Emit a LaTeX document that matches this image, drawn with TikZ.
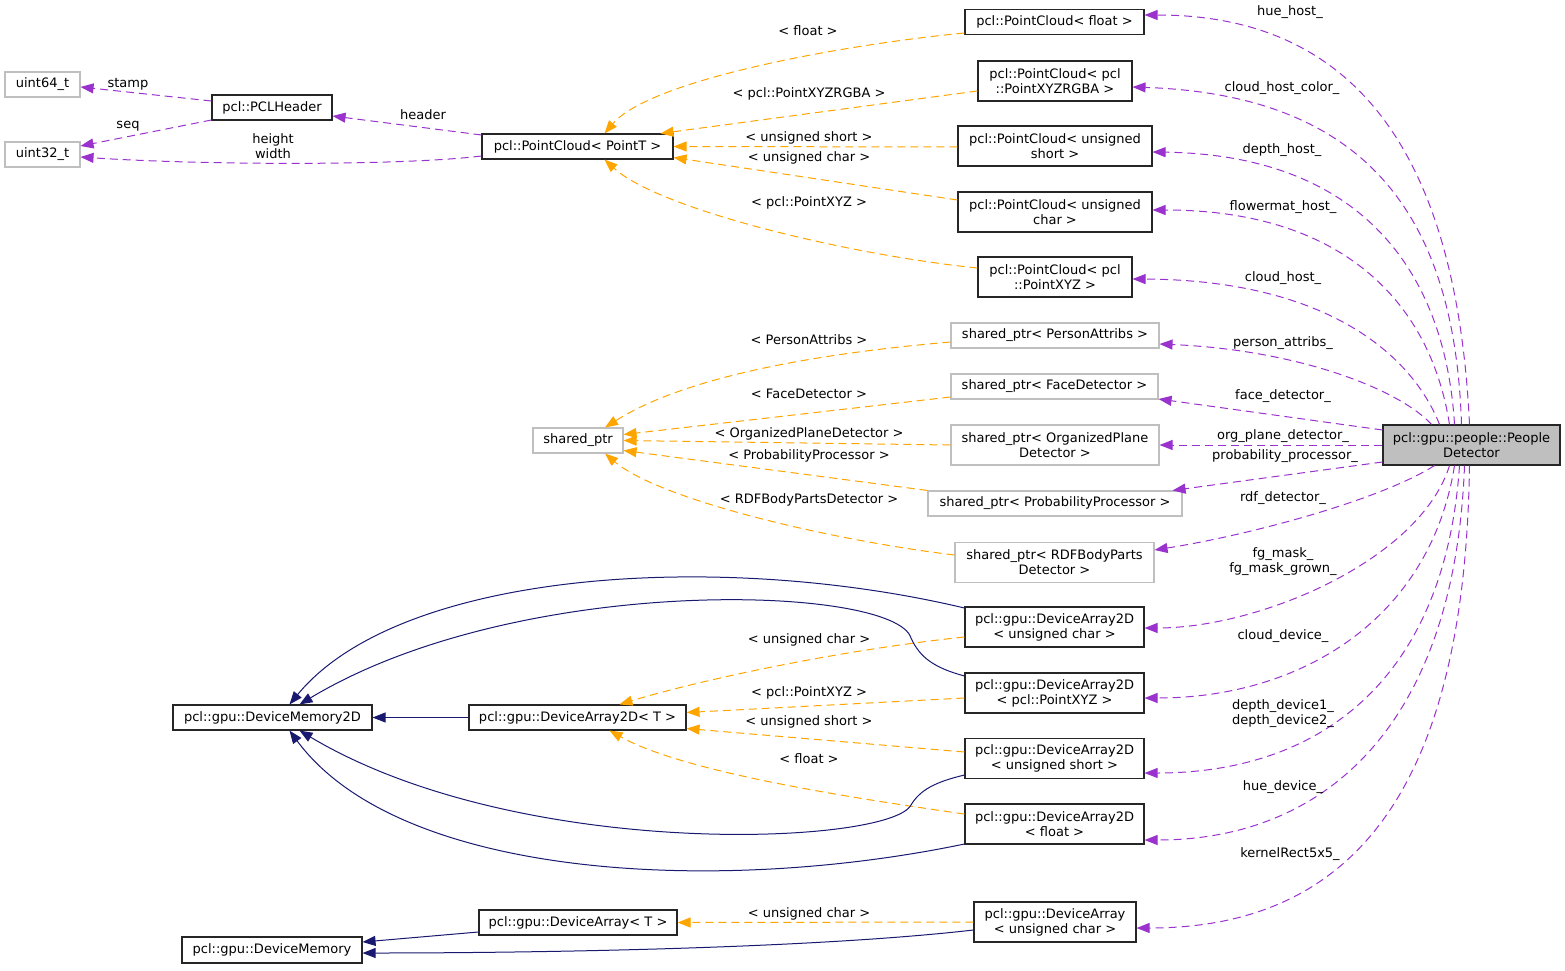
\documentclass[tikz,border=0pt]{standalone}
\usepackage{fontspec}
\setmainfont{DejaVu Sans}
\usetikzlibrary{arrows.meta}
\definecolor{memc}{HTML}{9A32CD}
\definecolor{tplc}{HTML}{FFA500}
\definecolor{inhc}{HTML}{191970}
\definecolor{gryc}{HTML}{BFBFBF}
\begin{document}
\begin{tikzpicture}[x=1pt,y=-1pt,
  every node/.style={font=\fontsize{13}{15}\selectfont, inner sep=0pt},
  cls/.style={draw=black!85, line width=1.1pt, minimum height=25pt, align=center, fill=white},
  ext/.style={draw=gryc, line width=1.1pt, minimum height=25pt, align=center, fill=white},
  two/.style={minimum height=40pt},
  lbl/.style={align=center},
  memb/.style={draw=memc, line width=1pt, dash pattern=on 8pt off 5pt, -{Triangle[length=13pt,width=10pt]}},
  tpl/.style={draw=tplc, line width=1pt, dash pattern=on 8pt off 5pt, -{Triangle[length=13pt,width=10pt]}},
  inh/.style={draw=inhc, line width=1pt, -{Triangle[length=13pt,width=10pt]}}]
\useasboundingbox (0,0) rectangle (1565,971);
% nodes
\node[ext, minimum width=75pt] (u64) at (42.5,84.5) {uint64\_t};
\node[ext, minimum width=75pt] (u32) at (42.5,154.5) {uint32\_t};
\node[cls, minimum width=120pt] (hdr) at (272,107.5) {pcl::PCLHeader};
\node[cls, minimum width=191pt] (pct) at (577.5,146.5) {pcl::PointCloud< PointT >};
\node[cls, minimum width=179pt] (pcf) at (1054.5,22) {pcl::PointCloud< float >};
\node[cls, two, minimum width=154pt] (pcrgba) at (1055,81) {pcl::PointCloud< pcl\\::PointXYZRGBA >};
\node[cls, two, minimum width=194pt] (pcus) at (1055,146) {pcl::PointCloud< unsigned\\short >};
\node[cls, two, minimum width=194pt] (pcuc) at (1055,212) {pcl::PointCloud< unsigned\\char >};
\node[cls, two, minimum width=154pt] (pcxyz) at (1055,277) {pcl::PointCloud< pcl\\::PointXYZ >};
\node[ext, minimum width=208pt] (spa) at (1055,335.5) {shared\_ptr< PersonAttribs >};
\node[ext, minimum width=207pt] (sfd) at (1054.5,386.5) {shared\_ptr< FaceDetector >};
\node[ext, two, minimum width=208pt] (sop) at (1055,445) {shared\_ptr< OrganizedPlane\\Detector >};
\node[ext, minimum width=254pt] (spp) at (1055,503.5) {shared\_ptr< ProbabilityProcessor >};
\node[ext, two, minimum width=199pt] (srdf) at (1054.5,562.5) {shared\_ptr< RDFBodyParts\\Detector >};
\node[ext, minimum width=90pt] (sp) at (578,440.5) {shared\_ptr};
\node[cls, two, minimum width=177pt, fill=gryc] (pd) at (1471.5,445) {pcl::gpu::people::People\\Detector};
\node[cls, two, minimum width=179pt] (da2uc) at (1054.5,627) {pcl::gpu::DeviceArray2D\\< unsigned char >};
\node[cls, two, minimum width=179pt] (da2xyz) at (1054.5,693) {pcl::gpu::DeviceArray2D\\< pcl::PointXYZ >};
\node[cls, two, minimum width=179pt] (da2us) at (1054.5,758.5) {pcl::gpu::DeviceArray2D\\< unsigned short >};
\node[cls, two, minimum width=179pt] (da2f) at (1054.5,824) {pcl::gpu::DeviceArray2D\\< float >};
\node[cls, minimum width=199pt] (dm2) at (272.5,717.5) {pcl::gpu::DeviceMemory2D};
\node[cls, minimum width=217pt] (da2t) at (577.5,717.5) {pcl::gpu::DeviceArray2D< T >};
\node[cls, minimum width=198pt] (dat) at (578,922.5) {pcl::gpu::DeviceArray< T >};
\node[cls, minimum width=180pt, minimum height=26pt] (dm) at (272,950) {pcl::gpu::DeviceMemory};
\node[cls, two, minimum width=162pt] (dauc) at (1055,922) {pcl::gpu::DeviceArray\\< unsigned char >};

% member edges from PeopleDetector
\draw[memb] ([xshift=-2pt]pd.north) .. controls (1455,120) and (1330,15) .. ([yshift=7pt]pcf.east);
\draw[memb] ([xshift=-10pt]pd.north) .. controls (1455,220) and (1370,95) .. ([yshift=-6pt]pcrgba.east);
\draw[memb] ([xshift=-17pt]pd.north) .. controls (1445,270) and (1360,155) .. ([yshift=-6pt]pcus.east);
\draw[memb] ([xshift=-22pt]pd.north) .. controls (1430,300) and (1340,210) .. ([yshift=2pt]pcuc.east);
\draw[memb] ([xshift=-32pt]pd.north) .. controls (1410,350) and (1320,280) .. ([yshift=-2pt]pcxyz.east);
\draw[memb] ([xshift=-40pt]pd.north) .. controls (1400,390) and (1300,350) .. ([yshift=-8.5pt]spa.east);
\draw[memb] ([yshift=15pt]pd.west) -- ([yshift=-12.5pt]sfd.east);
\draw[memb] (pd.west) -- (sop.east);
\draw[memb] ([yshift=-17pt]pd.west) -- ([xshift=-10pt]spp.north east);
\draw[memb] ([xshift=-37pt]pd.south) .. controls (1380,500) and (1250,535) .. ([yshift=12.5pt]srdf.east);
\draw[memb] ([xshift=-22pt]pd.south) .. controls (1420,560) and (1260,628) .. ([yshift=-1pt]da2uc.east);
\draw[memb] ([xshift=-17pt]pd.south) .. controls (1430,620) and (1300,698) .. ([yshift=-5pt]da2xyz.east);
\draw[memb] ([xshift=-12pt]pd.south) .. controls (1445,680) and (1320,773) .. ([yshift=-14.5pt]da2us.east);
\draw[memb] ([xshift=-7pt]pd.south) .. controls (1455,720) and (1330,840) .. ([yshift=-16pt]da2f.east);
\draw[memb] ([xshift=-2pt]pd.south) .. controls (1465,780) and (1360,928) .. ([yshift=-6pt]dauc.east);

% member edges left
\draw[memb] ([yshift=6.5pt]hdr.west) -- ([yshift=-2.5pt]u64.east);
\draw[memb] ([yshift=-12.5pt]hdr.west) -- ([yshift=8.5pt]u32.east);
\draw[memb] ([yshift=11.5pt]pct.west) -- ([yshift=-8.5pt]hdr.east);
\draw[memb] ([yshift=-9.5pt]pct.west) .. controls (400,166) and (200,165) .. ([yshift=-2.5pt]u32.east);

% template edges
\draw[tpl] ([yshift=-11pt]pcf.west) .. controls (840,45) and (650,80) .. ([xshift=27pt]pct.north);
\draw[tpl] ([yshift=-10pt]pcrgba.west) -- ([xshift=-13pt]pct.north east);
\draw[tpl] ([yshift=-1pt]pcus.west) -- (pct.east);
\draw[tpl] ([yshift=12pt]pcuc.west) -- ([yshift=-11pt]pct.east);
\draw[tpl] ([yshift=9pt]pcxyz.west) .. controls (850,255) and (660,210) .. ([xshift=27pt]pct.south);
\draw[tpl] ([yshift=-6.5pt]spa.west) .. controls (800,355) and (680,380) .. ([xshift=27pt]sp.north);
\draw[tpl] ([yshift=-10.5pt]sfd.west) -- ([yshift=6pt]sp.east);
\draw[tpl] (sop.west) -- (sp.east);
\draw[tpl] (spp.north west) -- ([yshift=-10pt]sp.east);
\draw[tpl] ([yshift=7.5pt]srdf.west) .. controls (830,540) and (660,500) .. ([xshift=27pt]sp.south);
\draw[tpl] ([yshift=-10pt]da2uc.west) .. controls (840,650) and (700,680) .. ([xshift=42pt]da2t.north);
\draw[tpl] ([yshift=-5pt]da2xyz.west) -- ([yshift=5pt]da2t.east);
\draw[tpl] ([yshift=6.5pt]da2us.west) -- ([yshift=-11pt]da2t.east);
\draw[tpl] ([yshift=10pt]da2f.west) .. controls (830,795) and (680,770) .. ([xshift=32pt]da2t.south);
\draw[tpl] (dauc.west) -- (dat.east);

% inheritance edges
\draw[inh] (da2t.west) -- (dm2.east);
\draw[inh] ([yshift=19pt]da2uc.west) .. controls (720,550) and (400,570) .. ([xshift=17pt]dm2.north);
\draw[inh] ([yshift=17pt]da2xyz.west) .. controls (935,668) and (920,658) .. (911,638) .. controls (895,585) and (520,572) .. ([xshift=27pt]dm2.north);
\draw[inh] ([yshift=-16.5pt]da2us.west) .. controls (935,782) and (920,790) .. (911,805) .. controls (890,845) and (520,862) .. ([xshift=27pt]dm2.south);
\draw[inh] ([yshift=-20pt]da2f.west) .. controls (720,895) and (400,880) .. ([xshift=17pt]dm2.south);
\draw[inh] ([yshift=-9.5pt]dat.west) -- ([yshift=8pt]dm.east);
\draw[inh] ([yshift=-8pt]dauc.west) .. controls (800,950) and (500,953) .. ([yshift=-3pt]dm.east);

% labels
\node[lbl] (l1) at (1290,12) {hue\_host\_};
\node[lbl] (l2) at (1282,88) {cloud\_host\_color\_};
\node[lbl] (l3) at (1282,150) {depth\_host\_};
\node[lbl] (l4) at (1283,207) {flowermat\_host\_};
\node[lbl] (l5) at (1283,278) {cloud\_host\_};
\node[lbl] (l6) at (1283,343) {person\_attribs\_};
\node[lbl] (l7) at (1283,396) {face\_detector\_};
\node[lbl] (l8) at (1283,436) {org\_plane\_detector\_};
\node[lbl] (l9) at (1285,456) {probability\_processor\_};
\node[lbl] (l10) at (1283,498) {rdf\_detector\_};
\node[lbl] (l11) at (1283,562) {fg\_mask\_\\fg\_mask\_grown\_};
\node[lbl] (l12) at (1283,636) {cloud\_device\_};
\node[lbl] (l13) at (1283,714) {depth\_device1\_\\depth\_device2\_};
\node[lbl] (l14) at (1283,787) {hue\_device\_};
\node[lbl] (l15) at (1290,854) {kernelRect5x5\_};
\node[lbl] (l16) at (128,84) {stamp};
\node[lbl] (l17) at (128,126) {seq};
\node[lbl] (l18) at (423,115) {header};
\node[lbl] (l19) at (273,146) {height\\width};
\node[lbl] (t1) at (808,31) {< float >};
\node[lbl] (t2) at (809,94) {< pcl::PointXYZRGBA >};
\node[lbl] (t3) at (809,138) {< unsigned short >};
\node[lbl] (t4) at (809,158) {< unsigned char >};
\node[lbl] (t5) at (809,203) {< pcl::PointXYZ >};
\node[lbl] (t6) at (809,340) {< PersonAttribs >};
\node[lbl] (t7) at (809,394) {< FaceDetector >};
\node[lbl] (t8) at (809,434) {< OrganizedPlaneDetector >};
\node[lbl] (t9) at (809,456) {< ProbabilityProcessor >};
\node[lbl] (t10) at (809,500) {< RDFBodyPartsDetector >};
\node[lbl] (t11) at (809,640) {< unsigned char >};
\node[lbl] (t12) at (809,693) {< pcl::PointXYZ >};
\node[lbl] (t13) at (809,722) {< unsigned short >};
\node[lbl] (t14) at (809,759) {< float >};
\node[lbl] (t15) at (809,914) {< unsigned char >};
\end{tikzpicture}
\end{document}
